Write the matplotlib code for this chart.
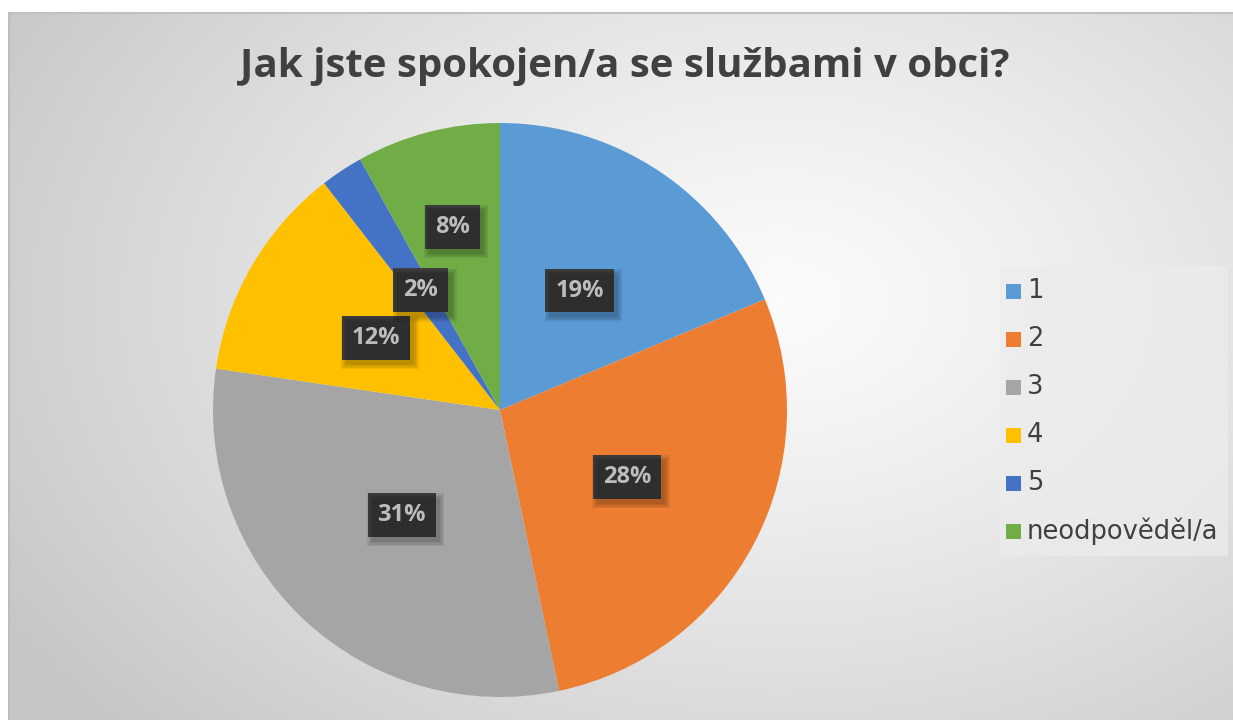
import numpy as np
import matplotlib
matplotlib.use("Agg")
import matplotlib.pyplot as plt

categories = ["1", "2", "3", "4", "5", "neodpověděl/a"]
values = [18.7, 28, 30.6, 12.2, 2.4, 8.1]
colors = ["#5b9bd5", "#ed7d31", "#a5a5a5", "#ffc000", "#4472c4", "#70ad47"]
title = "Jak jste spokojen/a se službami v obci?"

W, H = 1233, 720
fig = plt.figure(figsize=(W / 100, H / 100), dpi=100)
fig.patch.set_facecolor("white")

# background panel with radial gradient
bx0 = 8 / W
bg = fig.add_axes([bx0, 0, 1 - bx0, 1 - 12 / H])
bg.set_axis_off()
ny, nx = 300, 500
yy, xx = np.mgrid[0:ny, 0:nx]
px = 8 + xx / nx * (W - 8)
py = 12 + yy / ny * (H - 12)
cx, cy = 780, 300
d = np.sqrt(((px - cx) / 900) ** 2 + ((py - cy) / 620) ** 2)
d = np.clip(d, 0, 1)
val = 0.985 - (0.985 - 0.78) * d ** 1.2
img = np.dstack([val, val, val])
bg.imshow(img, extent=[0, 1, 0, 1], aspect="auto", origin="upper")
bg.set_xlim(0, 1)
bg.set_ylim(0, 1)
bg.plot([0.0008, 0.0008], [0, 1], color="#bdbdbd", lw=1.5)
bg.plot([0, 1], [0.999, 0.999], color="#c0c0c0", lw=1.5)

# pie
cxp, cyp, R = 500, 410, 287
ax = fig.add_axes([(cxp - R) / W, (H - cyp - R) / H, 2 * R / W, 2 * R / H])
ax.set_axis_off()
wedges, texts, autotexts = ax.pie(
    values, colors=colors, startangle=90, counterclock=False, radius=1,
    autopct="%1.0f%%", pctdistance=0.5,
    textprops=dict(color="white", fontsize=17, fontweight="bold", family="Open Sans"),
    wedgeprops=dict(linewidth=0),
)
ax.set_xlim(-1, 1)
ax.set_ylim(-1, 1)
ax.set_aspect("auto")

# move the label beside the small slice outward
w = wedges[5]
ang = np.deg2rad((w.theta1 + w.theta2) / 2)
autotexts[5].set_position((0.66 * np.cos(ang), 0.66 * np.sin(ang)))

for t in autotexts:
    t.set_bbox(dict(boxstyle="square,pad=0.42", fc="#404040", ec="none", lw=0))
    t.set_zorder(4)

fig.canvas.draw()
r = fig.canvas.get_renderer()
for t in autotexts:
    bb = t.get_bbox_patch().get_window_extent(r)
    for k in range(4):
        g = 1.5 * k
        fig.patches.append(plt.Rectangle((bb.x0 + 4 - g, bb.y0 - 5 - g),
                                         bb.width + 2 * g, bb.height + 2 * g,
                                         transform=None, fc=(0, 0, 0, 0.07),
                                         ec="none", zorder=2))

# title
fig.text(625 / W, 1 - 66 / H, title, ha="center", va="center", fontsize=29,
         fontweight="bold", color="#404040", family="Open Sans")

# legend
lg = fig.add_axes([1000 / W, (H - 556) / H, 228 / W, 290 / H])
lg.set_axis_off()
lg.set_xlim(1000, 1228)
lg.set_ylim(556, 266)
lg.add_patch(plt.Rectangle((1000, 266), 228, 290, fc="#ececec", ec="none", alpha=0.75))
for i, (c, col) in enumerate(zip(categories, colors)):
    yc = 291 + 48 * i
    lg.add_patch(plt.Rectangle((1006, yc - 7.5), 15, 15, fc=col, ec="none"))
    lg.text(1027, yc, c, ha="left", va="center", fontsize=18.5, color="#404040",
            family="DejaVu Sans")

fig.savefig("out.png", dpi=100)
